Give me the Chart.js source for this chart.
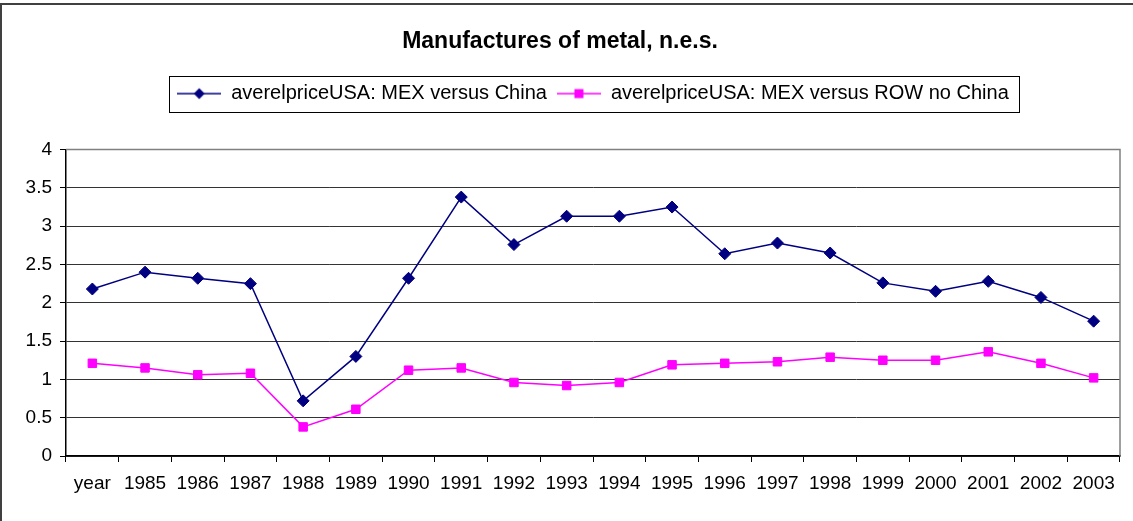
<!DOCTYPE html>
<html>
<head>
<meta charset="utf-8">
<title>Manufactures of metal, n.e.s.</title>
<script src="https://cdn.jsdelivr.net/npm/chart.js@4/dist/chart.umd.min.js"></script>
<style>
  body { margin: 0; background: #fff; }
  #wrap { position: relative; width: 1133px; height: 521px; }
  #frame { position: absolute; left: 0; top: 3px; right: -4px; bottom: -4px;
           border-left: 2px solid #404040; border-top: 2px solid #404040; pointer-events: none; }
  canvas { position: absolute; left: 0; top: 0; }
</style>
</head>
<body>
<div id="wrap">
  <canvas id="chart" width="1133" height="521"></canvas>
  <div id="frame"></div>
</div>
<script>
const years = ['year', '1985', '1986', '1987', '1988', '1989', '1990', '1991', '1992', '1993',
               '1994', '1995', '1996', '1997', '1998', '1999', '2000', '2001', '2002', '2003'];

const vsChina = [2.18, 2.40, 2.32, 2.25, 0.72, 1.30, 2.32, 3.38, 2.76, 3.13,
                 3.13, 3.25, 2.64, 2.78, 2.65, 2.26, 2.15, 2.28, 2.07, 1.76];

const vsRowNoChina = [1.21, 1.15, 1.06, 1.08, 0.38, 0.61, 1.12, 1.15, 0.96, 0.92,
                      0.96, 1.19, 1.21, 1.23, 1.29, 1.25, 1.25, 1.36, 1.21, 1.02];

const yTicks = ['0', '0.5', '1', '1.5', '2', '2.5', '3', '3.5', '4'];

const FONT = "'Liberation Sans', Arial, sans-serif";

// small line + marker icon used in the legend
const legendIcon = (color, shape) => {
  const c = document.createElement('canvas');
  c.width = 44; c.height = 14;
  const g = c.getContext('2d');
  g.strokeStyle = color;
  g.lineWidth = 1.5;
  g.beginPath(); g.moveTo(0, 7); g.lineTo(44, 7); g.stroke();
  g.fillStyle = color;
  g.beginPath();
  if (shape === 'diamond') {
    g.moveTo(16.5, 7); g.lineTo(22, 1.5); g.lineTo(27.5, 7); g.lineTo(22, 12.5);
  } else {
    g.rect(17.5, 2.5, 9, 9);
  }
  g.closePath(); g.fill();
  return c;
};

const icons = [legendIcon('#000080', 'diamond'), legendIcon('#ff00ff', 'square')];

// grey border on the top and right of the plot area
const plotFrame = {
  id: 'plotFrame',
  beforeDatasetsDraw(chart) {
    const {ctx, chartArea: a} = chart;
    ctx.save();
    ctx.strokeStyle = '#808080';
    ctx.lineWidth = 1.5;
    ctx.beginPath();
    ctx.moveTo(a.left, a.top);
    ctx.lineTo(a.right, a.top);
    ctx.lineTo(a.right, a.bottom);
    ctx.stroke();
    ctx.restore();
  }
};

// box round the legend entries
const legendBox = {
  id: 'legendBox',
  afterDraw(chart) {
    const boxes = chart.legend.legendHitBoxes;
    if (!boxes || !boxes.length) return;
    const left = Math.min(...boxes.map(b => b.left)) - 8;
    const right = Math.max(...boxes.map(b => b.left + b.width)) + 10;
    const mid = boxes[0].top + boxes[0].height / 2;
    const ctx = chart.ctx;
    ctx.save();
    ctx.strokeStyle = '#000';
    ctx.lineWidth = 1;
    ctx.strokeRect(Math.round(left) + 0.5, Math.round(mid - 18) + 0.5, Math.round(right - left), 36);
    ctx.restore();
  }
};

const ctx = document.getElementById('chart').getContext('2d');
window.myChart = new Chart(ctx, {
  type: 'line',
  data: {
    labels: years,
    datasets: [
      {
        label: 'averelpriceUSA: MEX versus China',
        data: vsChina,
        borderColor: '#000080',
        backgroundColor: '#000080',
        borderWidth: 1.5,
        pointStyle: 'rectRot',
        pointRadius: 6,
        pointBorderWidth: 1,
        fill: false,
        tension: 0,
      },
      {
        label: 'averelpriceUSA: MEX versus ROW no China',
        data: vsRowNoChina,
        borderColor: '#ff00ff',
        backgroundColor: '#ff00ff',
        borderWidth: 1.5,
        pointStyle: 'rect',
        pointRadius: 6,
        pointBorderWidth: 1,
        fill: false,
        tension: 0,
      },
    ],
  },
  options: {
    responsive: false,
    animation: false,
    layout: { padding: { left: 0, right: 13, top: 0, bottom: 0 } },
    plugins: {
      title: {
        display: true,
        text: 'Manufactures of metal, n.e.s.',
        color: '#000',
        font: { family: FONT, size: 23, weight: 'bold' },
        padding: { top: 28, bottom: 18 },
      },
      legend: {
        position: 'top',
        fullSize: false,
        labels: {
          color: '#000',
          font: { family: FONT, size: 20 },
          usePointStyle: true,
          pointStyleWidth: 44,
          boxHeight: 14,
          padding: 10,
          generateLabels: (chart) => {
            const items = Chart.defaults.plugins.legend.labels.generateLabels(chart);
            items.forEach((item, i) => { item.pointStyle = icons[i]; });
            return items;
          },
        },
      },
      tooltip: { enabled: false },
    },
    scales: {
      x: {
        offset: true,
        grid: { offset: true, drawOnChartArea: false, drawTicks: true, tickLength: 6, color: '#000' },
        border: { color: '#000', width: 1.5 },
        ticks: { color: '#000', font: { family: FONT, size: 19 }, padding: 10, maxRotation: 0, autoSkip: false },
        afterFit: (scale) => { scale.height = 65; },
      },
      // empty band between the legend and the plot
      spacer: {
        type: 'category',
        position: 'top',
        grid: { display: false, drawTicks: false },
        border: { display: false },
        ticks: { display: false },
        afterFit: (scale) => { scale.height = 36; },
      },
      y: {
        min: 0,
        max: 4,
        grid: {
          color: (c) => (c.tick && c.tick.value === 4 ? '#808080' : '#333'),
          lineWidth: 1,
          tickLength: 6,
          tickColor: '#000',
        },
        border: { color: '#000', width: 1.5 },
        ticks: {
          stepSize: 0.5,
          color: '#000',
          font: { family: FONT, size: 19 },
          padding: 8,
          callback: (value, index) => yTicks[index],
        },
        afterFit: (scale) => { scale.width = 66; },
      },
    },
  },
  plugins: [plotFrame, legendBox],
});
</script>
</body>
</html>
